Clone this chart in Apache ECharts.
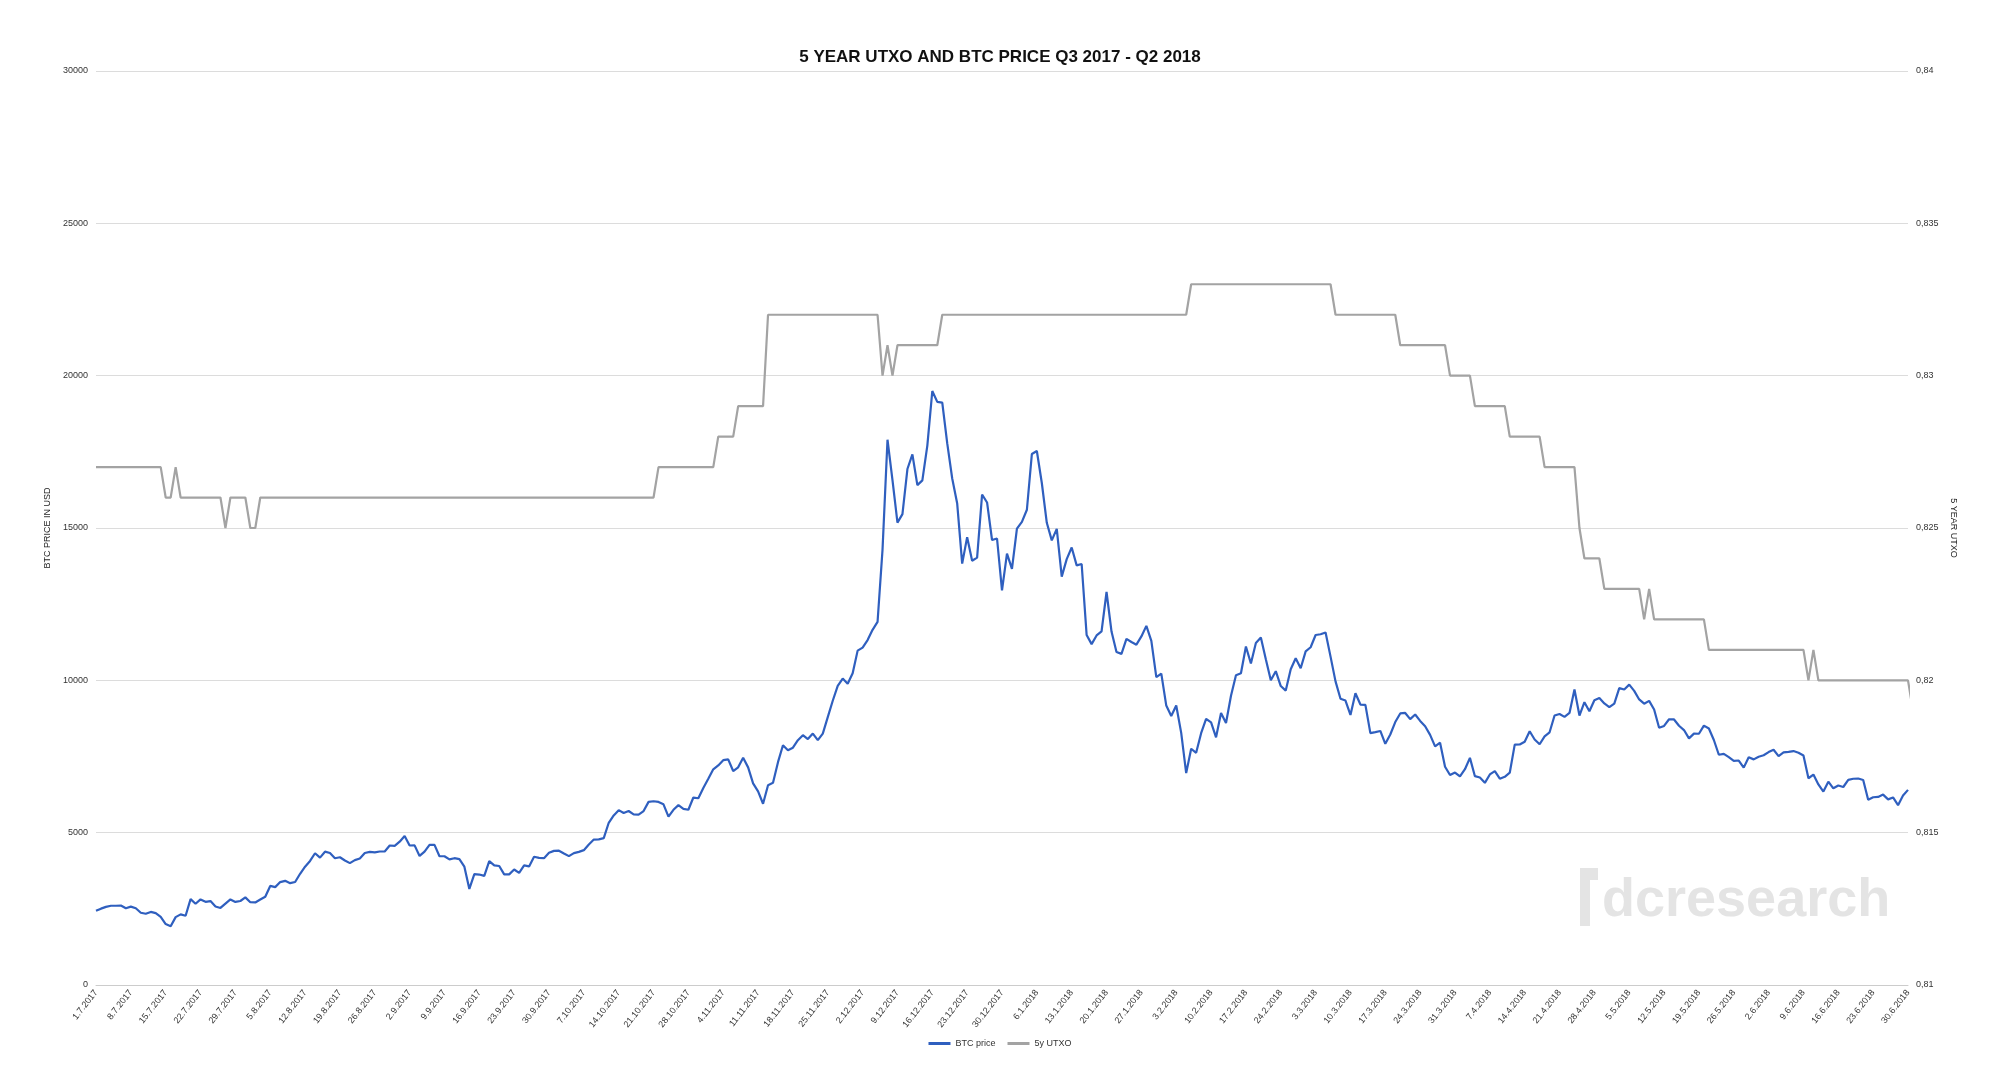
<!DOCTYPE html>
<html>
<head>
<meta charset="utf-8">
<script src="https://cdn.jsdelivr.net/npm/echarts@6/dist/echarts.min.js"></script>
<style>
  html, body { margin: 0; padding: 0; background: #fff; }
  #chart { width: 2000px; height: 1089px; }
</style>
</head>
<body>
<div id="chart"></div>
<script>
// ------------------------------ data ---------------------------
// daily BTC close, 1.7.2017 - 30.6.2018, one array per month
const btcJul = [2434, 2506, 2565, 2601, 2601, 2608, 2518, 2571, 2518, 2373, 2337, 2398, 2357, 2233, 1999, 1929, 2228, 2318, 2273, 2817, 2667, 2810, 2730, 2754, 2576, 2529, 2671, 2809, 2726, 2757, 2875];
const btcAug = [2718, 2710, 2804, 2895, 3252, 3213, 3378, 3419, 3342, 3381, 3650, 3884, 4073, 4325, 4181, 4376, 4331, 4160, 4193, 4087, 4001, 4100, 4151, 4334, 4371, 4352, 4382, 4382, 4579, 4565, 4703];
const btcSep = [4892, 4578, 4582, 4236, 4376, 4597, 4599, 4228, 4226, 4122, 4162, 4130, 3882, 3154, 3637, 3625, 3582, 4065, 3924, 3905, 3631, 3630, 3792, 3682, 3926, 3892, 4209, 4174, 4163, 4338];
const btcOct = [4403, 4409, 4318, 4229, 4328, 4370, 4426, 4611, 4773, 4782, 4820, 5325, 5564, 5739, 5647, 5711, 5603, 5590, 5708, 6011, 6032, 6008, 5930, 5526, 5750, 5904, 5780, 5753, 6153, 6130, 6468];
const btcNov = [6767, 7078, 7207, 7379, 7407, 7023, 7144, 7459, 7143, 6618, 6357, 5950, 6559, 6635, 7315, 7871, 7708, 7790, 8036, 8200, 8071, 8253, 8038, 8253, 8791, 9330, 9818, 10058, 9888, 10233];
const btcDec = [10975, 11074, 11323, 11657, 11916, 14291, 17899, 16570, 15178, 15455, 16936, 17415, 16408, 16564, 17706, 19497, 19140, 19114, 17776, 16624, 15802, 13831, 14699, 13926, 14026, 16099, 15838, 14606, 14656, 12952, 14156];
const btcJan = [13657, 14982, 15201, 15599, 17429, 17527, 16477, 15170, 14595, 14973, 13405, 13980, 14360, 13772, 13819, 11490, 11188, 11474, 11607, 12899, 11600, 10931, 10868, 11359, 11259, 11171, 11441, 11787, 11296, 10106, 10221];
const btcFeb = [9171, 8831, 9175, 8277, 6955, 7754, 7621, 8265, 8736, 8621, 8130, 8926, 8599, 9494, 10166, 10233, 11112, 10551, 11225, 11403, 10690, 10005, 10301, 9813, 9664, 10366, 10725, 10397];
const btcMar = [10951, 11086, 11489, 11512, 11573, 10779, 9965, 9395, 9337, 8866, 9578, 9205, 9194, 8269, 8301, 8338, 7916, 8223, 8630, 8913, 8929, 8728, 8879, 8668, 8495, 8210, 7834, 7954, 7165, 6891, 6973];
const btcApr = [6845, 7083, 7456, 6854, 6811, 6636, 6911, 7023, 6771, 6834, 6968, 7889, 7895, 7986, 8329, 8058, 7902, 8163, 8294, 8845, 8895, 8802, 8930, 9697, 8845, 9281, 8987, 9348, 9419, 9240];
const btcMay = [9119, 9235, 9743, 9700, 9858, 9654, 9373, 9234, 9325, 9043, 8441, 8504, 8723, 8716, 8510, 8368, 8094, 8250, 8247, 8514, 8418, 8041, 7557, 7587, 7480, 7355, 7368, 7135, 7472, 7406, 7494];
const btcJun = [7541, 7644, 7720, 7514, 7633, 7653, 7678, 7624, 7531, 6786, 6906, 6582, 6349, 6675, 6456, 6550, 6499, 6734, 6769, 6776, 6729, 6083, 6162, 6173, 6249, 6093, 6157, 5903, 6218, 6404];

// 5y UTXO as [value, number of days] runs
const utxoRuns = [
  [0.827, 14], [0.826, 2], [0.827, 1], [0.826, 9], [0.825, 1], [0.826, 4], [0.825, 2],
  [0.826, 80], [0.827, 12], [0.828, 4], [0.829, 6], [0.832, 23], [0.830, 1], [0.831, 1],
  [0.830, 1], [0.831, 9], [0.832, 50], [0.833, 29], [0.832, 13], [0.831, 10], [0.830, 5],
  [0.829, 7], [0.828, 7], [0.827, 7], [0.825, 1], [0.824, 4], [0.823, 8], [0.822, 1],
  [0.823, 1], [0.822, 11], [0.821, 20], [0.820, 1], [0.821, 1], [0.820, 19], [0.819, 1]
];

const startDate = [2017, 7, 1];

// ------------------------------ chart ---------------------------
(function () {
  const btc = [].concat(btcJul, btcAug, btcSep, btcOct, btcNov, btcDec,
    btcJan, btcFeb, btcMar, btcApr, btcMay, btcJun);
  const utxo = [];
  utxoRuns.forEach(function (r) {
    for (let i = 0; i < r[1]; i++) utxo.push(r[0]);
  });

  // category labels d.m.yyyy
  const dates = [];
  const d = new Date(Date.UTC(startDate[0], startDate[1] - 1, startDate[2]));
  for (let i = 0; i < btc.length; i++) {
    dates.push(d.getUTCDate() + '.' + (d.getUTCMonth() + 1) + '.' + d.getUTCFullYear());
    d.setUTCDate(d.getUTCDate() + 1);
  }

  const font = 'Liberation Sans, Arial, sans-serif';
  const myChart = echarts.init(document.getElementById('chart'));
  const option = {
    backgroundColor: '#fff',
    animation: false,
    textStyle: { fontFamily: font },
    title: {
      text: '5 YEAR UTXO AND BTC PRICE Q3 2017 - Q2 2018',
      left: 'center',
      top: 44,
      textStyle: { fontSize: 17, fontWeight: 'bold', color: '#111', fontFamily: font }
    },
    color: ['#2f5fbf', '#a3a3a3'],
    legend: {
      bottom: 36,
      left: 'center',
      itemWidth: 22,
      itemHeight: 3,
      itemGap: 12,
      icon: 'rect',
      textStyle: { fontSize: 9, color: '#333' },
      data: ['BTC price', '5y UTXO']
    },
    grid: { left: 96, right: 92, top: 71, bottom: 104 },
    xAxis: {
      type: 'category',
      boundaryGap: false,
      data: dates,
      axisLine: { lineStyle: { color: '#ccc' } },
      axisTick: { show: false },
      axisLabel: { interval: 6, rotate: 52, fontSize: 9, color: '#333', margin: 6 }
    },
    yAxis: [
      {
        type: 'value',
        min: 0, max: 30000, interval: 5000,
        name: 'BTC PRICE IN USD',
        nameLocation: 'middle',
        nameRotate: 90,
        nameGap: 40,
        nameTextStyle: { fontSize: 9, color: '#222' },
        axisLine: { show: false },
        axisTick: { show: false },
        axisLabel: { fontSize: 9, color: '#333', formatter: function (v) { return String(v); } },
        splitLine: { lineStyle: { color: '#dcdcdc' } }
      },
      {
        type: 'value',
        min: 0.81, max: 0.84, interval: 0.005,
        name: '5 YEAR UTXO',
        nameLocation: 'middle',
        nameRotate: -90,
        nameGap: 38,
        nameTextStyle: { fontSize: 9, color: '#222' },
        axisLine: { show: false },
        axisTick: { show: false },
        splitLine: { show: false },
        axisLabel: {
          fontSize: 9, color: '#333',
          formatter: function (v) { return String(+v.toFixed(3)).replace('.', ','); }
        }
      }
    ],
    graphic: [
      {
        type: 'text', left: 1602, top: 874,
        style: { text: 'dcresearch', fontSize: 54, fontWeight: 'bold', fill: '#e4e4e4', fontFamily: font }
      },
      {
        type: 'polygon',
        shape: { points: [[1580, 868], [1598, 868], [1598, 880], [1590, 880], [1590, 926], [1580, 926]] },
        style: { fill: '#e4e4e4' }
      }
    ],
    series: [
      {
        name: 'BTC price', type: 'line', yAxisIndex: 0, data: btc,
        showSymbol: false, lineStyle: { width: 2.2 }, z: 3
      },
      {
        name: '5y UTXO', type: 'line', yAxisIndex: 1, data: utxo,
        showSymbol: false, lineStyle: { width: 2.2 }, z: 2
      }
    ]
  };
  myChart.setOption(option);
})();
</script>
</body>
</html>
